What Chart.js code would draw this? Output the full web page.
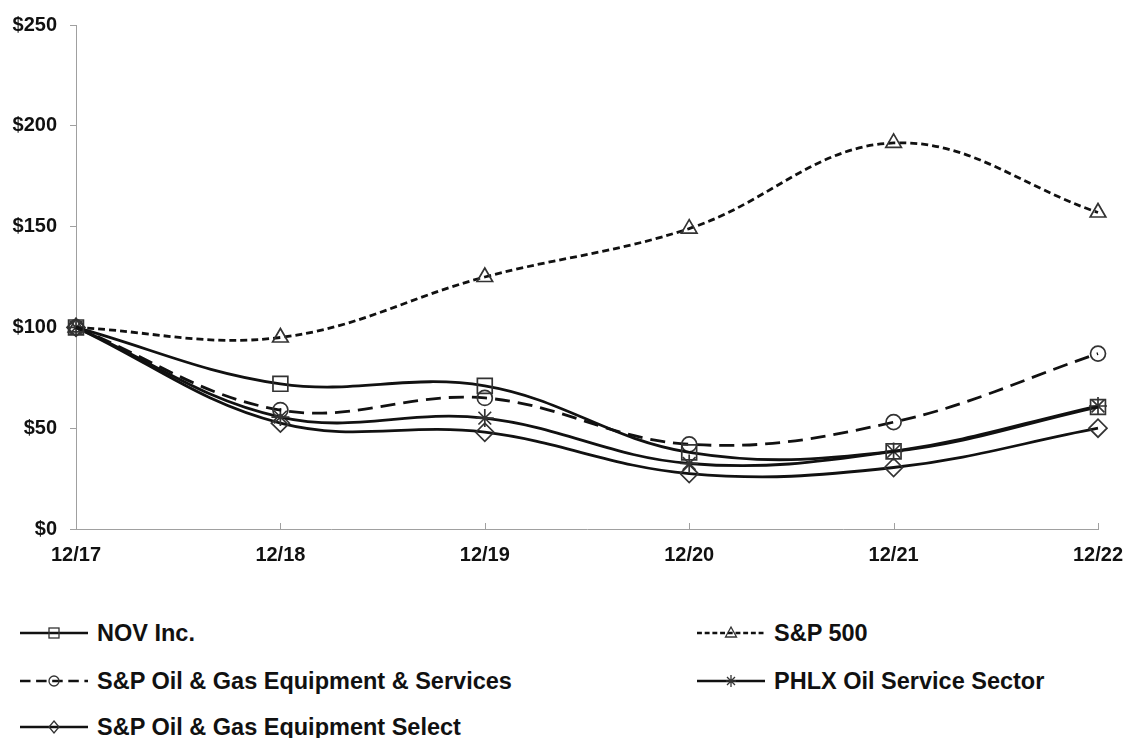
<!DOCTYPE html>
<html>
<head>
<meta charset="utf-8">
<script src="https://cdn.jsdelivr.net/npm/chart.js@4/dist/chart.umd.min.js"></script>
<style>
  html, body { margin: 0; padding: 0; background: #ffffff; }
  #wrap { position: relative; width: 1125px; height: 738px; background: #ffffff; overflow: hidden; }
  #chartBox { position: absolute; left: 0; top: 0; width: 1125px; height: 600px; }
  .leg { position: absolute; display: flex; align-items: center; height: 30px;
         font-family: "Liberation Sans", Arial, sans-serif; font-weight: bold; font-size: 23.5px; color: #111; white-space: nowrap; }
  .leg svg { display: block; margin-right: 9px; }
</style>
</head>
<body>
<div id="wrap">
  <div id="chartBox"><canvas id="c"></canvas></div>
  <div id="legend"></div>
</div>
<script>
// ---- data ----
const categories = ['12/17', '12/18', '12/19', '12/20', '12/21', '12/22'];
const seriesNames = ['NOV Inc.', 'S&P 500', 'S&P Oil & Gas Equipment & Services', 'PHLX Oil Service Sector', 'S&P Oil & Gas Equipment Select'];
const novValues = [100, 72, 71, 38, 38.5, 60.5];
const sp500Values = [100, 95, 125, 149, 191.5, 157];
const ogesValues = [100, 59, 65, 42, 53, 87];
const phlxValues = [100, 55.5, 55, 32.5, 38.5, 61];
const selectValues = [100, 52.5, 48, 27.5, 30.5, 50];
const yTickValues = [0, 50, 100, 150, 200, 250];

// ---- styles ----
const lineColor = '#111111';
const markerColor = '#333333';
const axisColor = '#a0a0a0';
const styles = [
  { data: novValues,    dash: [],       pointStyle: 'rect',     radius: 10.5 },
  { data: sp500Values,  dash: [7, 4],   pointStyle: 'triangle', radius: 9 },
  { data: ogesValues,   dash: [15, 8],  pointStyle: 'circle',   radius: 7.5 },
  { data: phlxValues,   dash: [],       pointStyle: 'star',     radius: 9 },
  { data: selectValues, dash: [],       pointStyle: 'rectRot',  radius: 9 }
];

const datasets = styles.map((s, i) => ({
  label: seriesNames[i],
  data: s.data,
  borderColor: lineColor,
  borderWidth: 2.8,
  borderDash: s.dash,
  tension: 0.38,
  fill: false,
  pointStyle: s.pointStyle,
  pointRadius: s.radius,
  pointBorderColor: markerColor,
  pointBorderWidth: 1.7,
  pointBackgroundColor: 'rgba(255,255,255,0)'
}));

const CANVAS_H = 600;
const PLOT_LEFT = 76, PLOT_RIGHT = 1098, PLOT_BOTTOM = 529, PLOT_TOP = 23;

const xTicksUp = {
  id: 'xTicksUp',
  afterDraw(chart) {
    const sx = chart.scales.x;
    const ctx = chart.ctx;
    ctx.save();
    ctx.strokeStyle = axisColor;
    ctx.lineWidth = 1;
    for (let i = 0; i < categories.length; i++) {
      const x = Math.round(sx.getPixelForTick(i)) + 0.5;
      ctx.beginPath();
      ctx.moveTo(x, sx.top);
      ctx.lineTo(x, sx.top - 6);
      ctx.stroke();
    }
    ctx.restore();
  }
};

const tickFont = { family: '"Liberation Sans", Arial, sans-serif', weight: 'bold', size: 20 };

new Chart(document.getElementById('c'), {
  type: 'line',
  data: { labels: categories, datasets },
  options: {
    responsive: true,
    maintainAspectRatio: false,
    animation: false,
    layout: { padding: { top: PLOT_TOP, right: 1125 - PLOT_RIGHT, bottom: 0, left: 0 } },
    plugins: { legend: { display: false }, tooltip: { enabled: false } },
    scales: {
      x: {
        type: 'category',
        offset: false,
        grid: { display: true, drawOnChartArea: false, drawTicks: false, color: axisColor },
        border: { display: true, color: axisColor, width: 1 },
        ticks: { color: '#111', font: tickFont, padding: 14, maxRotation: 0, autoSkip: false },
        afterFit(scale) {
          scale.height = CANVAS_H - PLOT_BOTTOM;
          scale.paddingLeft = 0;
          scale.paddingRight = 0;
        }
      },
      y: {
        min: 0,
        max: 250,
        afterBuildTicks(scale) { scale.ticks = yTickValues.map(v => ({ value: v })); },
        grid: { display: true, drawOnChartArea: false, drawTicks: true, tickLength: 6, color: axisColor },
        border: { display: true, color: axisColor, width: 1 },
        ticks: { color: '#111', font: tickFont, padding: 13, callback: v => '$' + v },
        afterFit(scale) { scale.width = PLOT_LEFT; }
      }
    }
  },
  plugins: [xTicksUp]
});

// ---- legend (HTML) ----
const legendPos = [
  { left: 20, top: 633 }, { left: 697, top: 633 },
  { left: 20, top: 681 }, { left: 697, top: 681 },
  { left: 20, top: 727 }
];
function markerSvg(style, cx, cy) {
  const st = `fill="none" stroke="${markerColor}" stroke-width="1.3"`;
  switch (style) {
    case 'rect': return `<rect x="${cx-5}" y="${cy-5}" width="10" height="10" ${st}/>`;
    case 'triangle': return `<polygon points="${cx},${cy-6} ${cx+5.5},${cy+4} ${cx-5.5},${cy+4}" ${st}/>`;
    case 'circle': return `<circle cx="${cx}" cy="${cy}" r="5" ${st}/>`;
    case 'star': return `<path d="M${cx-5} ${cy}H${cx+5}M${cx} ${cy-6}V${cy+6}M${cx-4} ${cy-4}L${cx+4} ${cy+4}M${cx+4} ${cy-4}L${cx-4} ${cy+4}" ${st}/>`;
    case 'rectRot': return `<polygon points="${cx},${cy-6} ${cx+5},${cy} ${cx},${cy+6} ${cx-5},${cy}" ${st}/>`;
  }
  return '';
}
const legendEl = document.getElementById('legend');
styles.forEach((s, i) => {
  const d = document.createElement('div');
  d.className = 'leg';
  d.style.left = legendPos[i].left + 'px';
  d.style.top = (legendPos[i].top - 15) + 'px';
  const dashAttr = s.dash.length ? `stroke-dasharray="${s.dash.map(v => v * 0.7).join(' ')}"` : '';
  d.innerHTML = `<svg width="68" height="20" viewBox="0 0 68 20">
      <line x1="0" y1="10" x2="68" y2="10" stroke="${lineColor}" stroke-width="2.6" ${dashAttr}/>
      ${markerSvg(s.pointStyle, 34, 10)}
    </svg><span>${seriesNames[i].replace(/&/g, '&amp;')}</span>`;
  legendEl.appendChild(d);
});
</script>
</body>
</html>
